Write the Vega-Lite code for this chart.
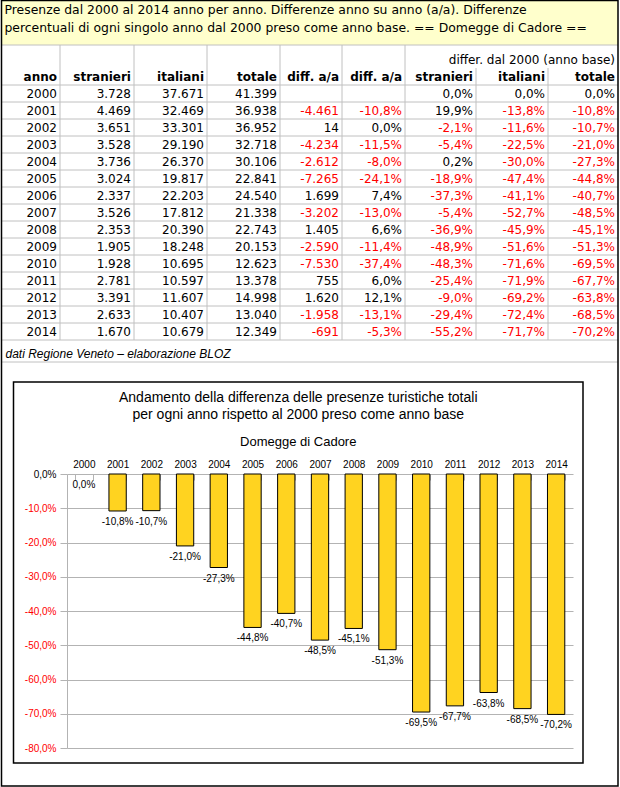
{
  "$schema": "https://vega.github.io/schema/vega-lite/v6.json",
  "width": 620,
  "height": 787,
  "padding": 0,
  "autosize": {"type": "none"},
  "background": "#FFFFFF",
  "datasets": {
    "anni": [
      {"riga": 4, "anno": 2000, "stranieri": 3728, "italiani": 37671, "totale": 41399, "ds": 0.0, "di": 0.0, "dt": 0.0},
      {"riga": 5, "anno": 2001, "stranieri": 4469, "italiani": 32469, "totale": 36938, "diff": -4461, "diffpct": -0.108, "ds": 0.199, "di": -0.138, "dt": -0.108},
      {"riga": 6, "anno": 2002, "stranieri": 3651, "italiani": 33301, "totale": 36952, "diff": 14, "diffpct": 0.0, "ds": -0.021, "di": -0.116, "dt": -0.107},
      {"riga": 7, "anno": 2003, "stranieri": 3528, "italiani": 29190, "totale": 32718, "diff": -4234, "diffpct": -0.115, "ds": -0.054, "di": -0.225, "dt": -0.21},
      {"riga": 8, "anno": 2004, "stranieri": 3736, "italiani": 26370, "totale": 30106, "diff": -2612, "diffpct": -0.08, "ds": 0.002, "di": -0.3, "dt": -0.273},
      {"riga": 9, "anno": 2005, "stranieri": 3024, "italiani": 19817, "totale": 22841, "diff": -7265, "diffpct": -0.241, "ds": -0.189, "di": -0.474, "dt": -0.448},
      {"riga": 10, "anno": 2006, "stranieri": 2337, "italiani": 22203, "totale": 24540, "diff": 1699, "diffpct": 0.074, "ds": -0.373, "di": -0.411, "dt": -0.407},
      {"riga": 11, "anno": 2007, "stranieri": 3526, "italiani": 17812, "totale": 21338, "diff": -3202, "diffpct": -0.13, "ds": -0.054, "di": -0.527, "dt": -0.485},
      {"riga": 12, "anno": 2008, "stranieri": 2353, "italiani": 20390, "totale": 22743, "diff": 1405, "diffpct": 0.066, "ds": -0.369, "di": -0.459, "dt": -0.451},
      {"riga": 13, "anno": 2009, "stranieri": 1905, "italiani": 18248, "totale": 20153, "diff": -2590, "diffpct": -0.114, "ds": -0.489, "di": -0.516, "dt": -0.513},
      {"riga": 14, "anno": 2010, "stranieri": 1928, "italiani": 10695, "totale": 12623, "diff": -7530, "diffpct": -0.374, "ds": -0.483, "di": -0.716, "dt": -0.695},
      {"riga": 15, "anno": 2011, "stranieri": 2781, "italiani": 10597, "totale": 13378, "diff": 755, "diffpct": 0.06, "ds": -0.254, "di": -0.719, "dt": -0.677},
      {"riga": 16, "anno": 2012, "stranieri": 3391, "italiani": 11607, "totale": 14998, "diff": 1620, "diffpct": 0.121, "ds": -0.09, "di": -0.692, "dt": -0.638},
      {"riga": 17, "anno": 2013, "stranieri": 2633, "italiani": 10407, "totale": 13040, "diff": -1958, "diffpct": -0.131, "ds": -0.294, "di": -0.724, "dt": -0.685},
      {"riga": 18, "anno": 2014, "stranieri": 1670, "italiani": 10679, "totale": 12349, "diff": -691, "diffpct": -0.053, "ds": -0.552, "di": -0.717, "dt": -0.702}
    ],
    "colonne": [
      {"campo": "anno", "colonna": 1, "tipo": "anno", "titolo": "anno"},
      {"campo": "stranieri", "colonna": 2, "tipo": "intero", "titolo": "stranieri"},
      {"campo": "italiani", "colonna": 3, "tipo": "intero", "titolo": "italiani"},
      {"campo": "totale", "colonna": 4, "tipo": "intero", "titolo": "totale"},
      {"campo": "diff", "colonna": 5, "tipo": "intero", "titolo": "diff. a/a"},
      {"campo": "diffpct", "colonna": 6, "tipo": "percento", "titolo": "diff. a/a"},
      {"campo": "ds", "colonna": 7, "tipo": "percento", "titolo": "stranieri"},
      {"campo": "di", "colonna": 8, "tipo": "percento", "titolo": "italiani"},
      {"campo": "dt", "colonna": 9, "tipo": "percento", "titolo": "totale"}
    ],
    "righe": [
      {"riga": 1}, {"riga": 3}, {"riga": 4}, {"riga": 5}, {"riga": 6}, {"riga": 7}, {"riga": 8}, {"riga": 9},
      {"riga": 10}, {"riga": 11}, {"riga": 12}, {"riga": 13}, {"riga": 14}, {"riga": 15}, {"riga": 16},
      {"riga": 17}, {"riga": 18}, {"riga": 19}
    ],
    "bordi": [
      {"colonna": 1, "da": 1, "a": 18}, {"colonna": 2, "da": 1, "a": 18}, {"colonna": 3, "da": 1, "a": 18},
      {"colonna": 4, "da": 1, "a": 18}, {"colonna": 5, "da": 1, "a": 18}, {"colonna": 6, "da": 1, "a": 18},
      {"colonna": 7, "da": 2, "a": 18}, {"colonna": 8, "da": 2, "a": 18}
    ]
  },
  "layer": [
    {
      "layer": [
        {
          "data": {"values": [{}]},
          "mark": {"type": "rect", "fill": "#FFFFCC"},
          "encoding": {
            "x": {"datum": 0, "type": "quantitative", "scale": {"domain": [0, 1, 2, 3, 4, 5, 6, 7, 8, 9], "range": [1.5, 60, 134, 207, 280, 342, 405, 476, 548, 618], "nice": false, "zero": false}, "axis": null},
            "x2": {"datum": 9},
            "y": {"datum": 0, "type": "quantitative", "scale": {"domain": [0, 1, 2, 3, 18, 19, 20], "range": [0.5, 45, 68, 85, 340, 362, 786], "nice": false, "zero": false}, "axis": null},
            "y2": {"datum": 1}
          }
        },
        {
          "data": {"name": "righe"},
          "mark": {"type": "rule", "color": "#C0C0C0", "strokeWidth": 1},
          "encoding": {
            "x": {"datum": 0, "type": "quantitative", "scale": {"domain": [0, 1, 2, 3, 4, 5, 6, 7, 8, 9], "range": [1.5, 60, 134, 207, 280, 342, 405, 476, 548, 618], "nice": false, "zero": false}, "axis": null},
            "x2": {"datum": 9},
            "y": {"field": "riga", "type": "quantitative", "scale": {"domain": [0, 1, 2, 3, 18, 19, 20], "range": [0.5, 45, 68, 85, 340, 362, 786], "nice": false, "zero": false}, "axis": null}
          }
        },
        {
          "data": {"name": "bordi"},
          "mark": {"type": "rule", "color": "#C0C0C0", "strokeWidth": 1},
          "encoding": {
            "x": {"field": "colonna", "type": "quantitative", "scale": {"domain": [0, 1, 2, 3, 4, 5, 6, 7, 8, 9], "range": [1.5, 60, 134, 207, 280, 342, 405, 476, 548, 618], "nice": false, "zero": false}, "axis": null},
            "y": {"field": "da", "type": "quantitative", "scale": {"domain": [0, 1, 2, 3, 18, 19, 20], "range": [0.5, 45, 68, 85, 340, 362, 786], "nice": false, "zero": false}, "axis": null},
            "y2": {"field": "a"}
          }
        },
        {
          "data": {"values": [{}]},
          "mark": {"type": "rect", "fill": null, "stroke": "#000000", "strokeWidth": 1.5},
          "encoding": {
            "x": {"datum": 0, "type": "quantitative", "scale": {"domain": [0, 1, 2, 3, 4, 5, 6, 7, 8, 9], "range": [1.5, 60, 134, 207, 280, 342, 405, 476, 548, 618], "nice": false, "zero": false}, "axis": null},
            "x2": {"datum": 9},
            "y": {"datum": 0, "type": "quantitative", "scale": {"domain": [0, 1, 2, 3, 18, 19, 20], "range": [0.5, 45, 68, 85, 340, 362, 786], "nice": false, "zero": false}, "axis": null},
            "y2": {"datum": 20}
          }
        },
        {
          "data": {"values": [{"testo": ["Presenze dal 2000 al 2014 anno per anno. Differenze anno su anno (a/a). Differenze", "percentuali di ogni singolo anno dal 2000 preso come anno base. == Domegge di Cadore =="]}]},
          "mark": {"type": "text", "align": "left", "baseline": "top", "dx": 3, "dy": 3, "font": "DejaVu Sans", "fontSize": 12.4, "lineHeight": 18, "color": "#000000"},
          "encoding": {
            "x": {"datum": 0, "type": "quantitative", "scale": {"domain": [0, 1, 2, 3, 4, 5, 6, 7, 8, 9], "range": [1.5, 60, 134, 207, 280, 342, 405, 476, 548, 618], "nice": false, "zero": false}, "axis": null},
            "y": {"datum": 0, "type": "quantitative", "scale": {"domain": [0, 1, 2, 3, 18, 19, 20], "range": [0.5, 45, 68, 85, 340, 362, 786], "nice": false, "zero": false}, "axis": null},
            "text": {"field": "testo"}
          }
        },
        {
          "data": {"values": [{"testo": "differ. dal 2000 (anno base)"}]},
          "mark": {"type": "text", "align": "right", "baseline": "alphabetic", "dx": -3, "dy": -4, "font": "DejaVu Sans", "fontSize": 12, "color": "#000000"},
          "encoding": {
            "x": {"datum": 9, "type": "quantitative", "scale": {"domain": [0, 1, 2, 3, 4, 5, 6, 7, 8, 9], "range": [1.5, 60, 134, 207, 280, 342, 405, 476, 548, 618], "nice": false, "zero": false}, "axis": null},
            "y": {"datum": 2, "type": "quantitative", "scale": {"domain": [0, 1, 2, 3, 18, 19, 20], "range": [0.5, 45, 68, 85, 340, 362, 786], "nice": false, "zero": false}, "axis": null},
            "text": {"field": "testo"}
          }
        },
        {
          "data": {"name": "colonne"},
          "mark": {"type": "text", "align": "right", "baseline": "alphabetic", "dx": -3, "dy": -4, "font": "DejaVu Sans", "fontSize": 12, "fontWeight": "bold", "color": "#000000"},
          "encoding": {
            "x": {"field": "colonna", "type": "quantitative", "scale": {"domain": [0, 1, 2, 3, 4, 5, 6, 7, 8, 9], "range": [1.5, 60, 134, 207, 280, 342, 405, 476, 548, 618], "nice": false, "zero": false}, "axis": null},
            "y": {"datum": 3, "type": "quantitative", "scale": {"domain": [0, 1, 2, 3, 18, 19, 20], "range": [0.5, 45, 68, 85, 340, 362, 786], "nice": false, "zero": false}, "axis": null},
            "text": {"field": "titolo"}
          }
        },
        {
          "data": {"name": "anni"},
          "transform": [
            {"fold": ["anno", "stranieri", "italiani", "totale", "diff", "diffpct", "ds", "di", "dt"], "as": ["campo", "valore"]},
            {"filter": {"field": "valore", "valid": true}},
            {"lookup": "campo", "from": {"data": {"name": "colonne"}, "key": "campo", "fields": ["colonna", "tipo"]}},
            {"filter": {"field": "tipo", "equal": "anno"}}
          ],
          "mark": {"type": "text", "align": "right", "baseline": "alphabetic", "dx": -3, "dy": -4, "font": "DejaVu Sans", "fontSize": 12},
          "encoding": {
            "x": {"field": "colonna", "type": "quantitative", "scale": {"domain": [0, 1, 2, 3, 4, 5, 6, 7, 8, 9], "range": [1.5, 60, 134, 207, 280, 342, 405, 476, 548, 618], "nice": false, "zero": false}, "axis": null},
            "y": {"field": "riga", "type": "quantitative", "scale": {"domain": [0, 1, 2, 3, 18, 19, 20], "range": [0.5, 45, 68, 85, 340, 362, 786], "nice": false, "zero": false}, "axis": null},
            "text": {"field": "valore", "type": "quantitative", "format": "d"},
            "color": {"value": "#000000"}
          }
        },
        {
          "data": {"name": "anni"},
          "transform": [
            {"fold": ["anno", "stranieri", "italiani", "totale", "diff", "diffpct", "ds", "di", "dt"], "as": ["campo", "valore"]},
            {"filter": {"field": "valore", "valid": true}},
            {"lookup": "campo", "from": {"data": {"name": "colonne"}, "key": "campo", "fields": ["colonna", "tipo"]}},
            {"filter": {"field": "tipo", "equal": "intero"}}
          ],
          "mark": {"type": "text", "align": "right", "baseline": "alphabetic", "dx": -3, "dy": -4, "font": "DejaVu Sans", "fontSize": 12},
          "encoding": {
            "x": {"field": "colonna", "type": "quantitative", "scale": {"domain": [0, 1, 2, 3, 4, 5, 6, 7, 8, 9], "range": [1.5, 60, 134, 207, 280, 342, 405, 476, 548, 618], "nice": false, "zero": false}, "axis": null},
            "y": {"field": "riga", "type": "quantitative", "scale": {"domain": [0, 1, 2, 3, 18, 19, 20], "range": [0.5, 45, 68, 85, 340, 362, 786], "nice": false, "zero": false}, "axis": null},
            "text": {"field": "valore", "type": "quantitative", "format": ",d"},
            "color": {"condition": {"test": "datum.valore < 0", "value": "#FF0000"}, "value": "#000000"}
          }
        },
        {
          "data": {"name": "anni"},
          "transform": [
            {"fold": ["anno", "stranieri", "italiani", "totale", "diff", "diffpct", "ds", "di", "dt"], "as": ["campo", "valore"]},
            {"filter": {"field": "valore", "valid": true}},
            {"lookup": "campo", "from": {"data": {"name": "colonne"}, "key": "campo", "fields": ["colonna", "tipo"]}},
            {"filter": {"field": "tipo", "equal": "percento"}}
          ],
          "mark": {"type": "text", "align": "right", "baseline": "alphabetic", "dx": -3, "dy": -4, "font": "DejaVu Sans", "fontSize": 12},
          "encoding": {
            "x": {"field": "colonna", "type": "quantitative", "scale": {"domain": [0, 1, 2, 3, 4, 5, 6, 7, 8, 9], "range": [1.5, 60, 134, 207, 280, 342, 405, 476, 548, 618], "nice": false, "zero": false}, "axis": null},
            "y": {"field": "riga", "type": "quantitative", "scale": {"domain": [0, 1, 2, 3, 18, 19, 20], "range": [0.5, 45, 68, 85, 340, 362, 786], "nice": false, "zero": false}, "axis": null},
            "text": {"field": "valore", "type": "quantitative", "format": ".1%"},
            "color": {"condition": {"test": "datum.valore < 0", "value": "#FF0000"}, "value": "#000000"}
          }
        },
        {
          "data": {"values": [{"testo": "dati Regione Veneto – elaborazione BLOZ"}]},
          "mark": {"type": "text", "align": "left", "baseline": "alphabetic", "dx": 4, "dy": -4, "font": "Liberation Sans", "fontSize": 12, "fontStyle": "italic", "color": "#000000"},
          "encoding": {
            "x": {"datum": 0, "type": "quantitative", "scale": {"domain": [0, 1, 2, 3, 4, 5, 6, 7, 8, 9], "range": [1.5, 60, 134, 207, 280, 342, 405, 476, 548, 618], "nice": false, "zero": false}, "axis": null},
            "y": {"datum": 19, "type": "quantitative", "scale": {"domain": [0, 1, 2, 3, 18, 19, 20], "range": [0.5, 45, 68, 85, 340, 362, 786], "nice": false, "zero": false}, "axis": null},
            "text": {"field": "testo"}
          }
        }
      ]
    },
    {
      "layer": [
        {
          "data": {"values": [{}]},
          "mark": {"type": "rect", "fill": null, "stroke": "#000000", "strokeWidth": 1.5},
          "encoding": {
            "x": {"datum": 0, "type": "quantitative", "scale": {"domain": [0, 1], "range": [13.5, 583], "nice": false, "zero": false}, "axis": null},
            "x2": {"datum": 1},
            "y": {"datum": 0, "type": "quantitative", "scale": {"domain": [0, 1], "range": [382, 763], "nice": false, "zero": false}, "axis": null},
            "y2": {"datum": 1}
          }
        },
        {
          "data": {"values": [{"testo": ["Andamento della differenza delle presenze turistiche totali", "per ogni anno rispetto al 2000 preso come anno base"]}]},
          "mark": {"type": "text", "align": "center", "baseline": "middle", "dy": 16, "font": "Liberation Sans", "fontSize": 14, "lineHeight": 17, "color": "#000000"},
          "encoding": {
            "x": {"datum": 0.5, "type": "quantitative", "scale": {"domain": [0, 1], "range": [13.5, 583], "nice": false, "zero": false}, "axis": null},
            "y": {"datum": 0, "type": "quantitative", "scale": {"domain": [0, 1], "range": [382, 763], "nice": false, "zero": false}, "axis": null},
            "text": {"field": "testo"}
          }
        },
        {
          "data": {"values": [{"testo": "Domegge di Cadore"}]},
          "mark": {"type": "text", "align": "center", "baseline": "middle", "dy": 60, "font": "Liberation Sans", "fontSize": 13, "color": "#000000"},
          "encoding": {
            "x": {"datum": 0.5, "type": "quantitative", "scale": {"domain": [0, 1], "range": [13.5, 583], "nice": false, "zero": false}, "axis": null},
            "y": {"datum": 0, "type": "quantitative", "scale": {"domain": [0, 1], "range": [382, 763], "nice": false, "zero": false}, "axis": null},
            "text": {"field": "testo"}
          }
        }
      ]
    },
    {
      "data": {"name": "anni"},
      "encoding": {
        "x": {
          "field": "anno", "type": "ordinal",
          "scale": {"range": [67, 573], "paddingInner": 0.487, "paddingOuter": 0.2435},
          "axis": {"orient": "top", "offset": -474, "title": null, "labelAngle": 0, "domain": false, "tickBand": "extent", "tickSize": -6, "tickColor": "#B3B3B3", "labelPadding": 11, "labelFont": "Liberation Sans", "labelFontSize": 10, "labelColor": "#000000"}
        },
        "y": {
          "field": "dt", "type": "quantitative",
          "scale": {"domain": [-0.8, 0], "range": [748, 474], "nice": false},
          "axis": {"orient": "left", "offset": -67, "title": null, "values": [0, -0.1, -0.2, -0.3, -0.4, -0.5, -0.6, -0.7, -0.8], "format": ".1%", "grid": true, "gridColor": "#B3B3B3", "domainColor": "#B3B3B3", "tickColor": "#B3B3B3", "tickSize": 7, "labelPadding": 4, "labelFont": "Liberation Sans", "labelFontSize": 10, "labelColor": {"condition": {"test": "datum.value < 0", "value": "#FF0000"}, "value": "#000000"}}
        }
      },
      "layer": [
        {
          "transform": [{"filter": {"field": "dt", "lt": 0}}],
          "mark": {"type": "bar", "fill": "#FFD320", "stroke": "#000000", "strokeWidth": 1},
          "encoding": {"y2": {"datum": 0}}
        },
        {
          "mark": {"type": "text", "align": "center", "baseline": "middle", "dy": 11, "font": "Liberation Sans", "fontSize": 10, "color": "#000000"},
          "encoding": {"text": {"field": "dt", "type": "quantitative", "format": ".1%"}}
        }
      ]
    }
  ],
  "resolve": {"scale": {"x": "independent", "y": "independent"}, "axis": {"x": "independent", "y": "independent"}},
  "config": {
    "view": {"stroke": null},
    "font": "Liberation Sans",
    "locale": {"number": {"decimal": ",", "thousands": ".", "grouping": [3], "currency": ["", " €"], "minus": "-", "percent": "%"}}
  }
}
